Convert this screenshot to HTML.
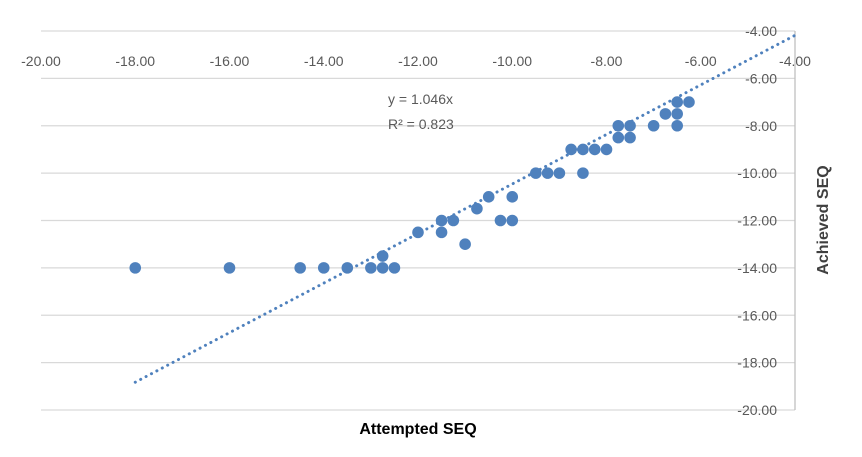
<!DOCTYPE html>
<html><head><meta charset="utf-8"><style>
body{margin:0;background:#fff;}
svg{display:block;font-family:"Liberation Sans",sans-serif;}
</style></head><body>
<svg id="chart" width="862" height="457">
<g id="grid"></g><g id="axes"></g><g id="trend"></g><g id="pts"></g>
<text x="388" y="104" font-size="14" fill="#595959">y = 1.046x</text>
<text x="388" y="129" font-size="14" fill="#595959">R² = 0.823</text>
<text x="418" y="434" font-size="16" font-weight="bold" text-anchor="middle" fill="#000">Attempted SEQ</text>
<text transform="translate(828,220) rotate(-90)" font-size="16" font-weight="bold" text-anchor="middle" fill="#404040">Achieved SEQ</text>
</svg>
<script>
const xTicks=[-20,-18,-16,-14,-12,-10,-8,-6,-4];
const yTicks=[-4,-6,-8,-10,-12,-14,-16,-18,-20];
const xVals=[-18,-16,-14.5,-14,-13.5,-13,-12.75,-12.5,-12.75,-12,-11.5,-11.5,-11.25,-11,-10.75,-10.5,-10.25,-10,-10,-9.5,-9.25,-9,-8.5,-8.75,-8.5,-8.25,-8,-7.75,-7.75,-7.5,-7.5,-7,-6.75,-6.5,-6.5,-6.5,-6.25];
const yVals=[-14,-14,-14,-14,-14,-14,-14,-14,-13.5,-12.5,-12,-12.5,-12,-13,-11.5,-11,-12,-12,-11,-10,-10,-10,-10,-9,-9,-9,-9,-8,-8.5,-8,-8.5,-8,-7.5,-7,-7.5,-8,-7];
const slope=1.046;
const trendRange=[-18,-4];
const X=v=>41+(v+20)*754/16;
const Y=v=>31+(-4-v)*379/16;
const NS="http://www.w3.org/2000/svg";
function mk(t,a,p){const e=document.createElementNS(NS,t);for(const k in a)e.setAttribute(k,a[k]);p.appendChild(e);return e;}
const grid=document.getElementById('grid'),axes=document.getElementById('axes'),pts=document.getElementById('pts'),tr=document.getElementById('trend');
yTicks.forEach(v=>{
 const l=mk('line',{x1:41,x2:795,y1:Y(v),y2:Y(v),stroke:'#d9d9d9','stroke-width':1.3},grid);
 
 
 const t=mk('text',{x:777,y:Y(v)+5,'font-size':14,fill:'#595959','text-anchor':'end'},axes);
 t.textContent=v.toFixed(2);
 
 
});
xTicks.forEach(v=>{
 const t=mk('text',{x:X(v),y:66,'font-size':14,fill:'#595959','text-anchor':'middle'},axes);
 t.textContent=v.toFixed(2);
 
 
});
const ax=mk('line',{x1:795,x2:795,y1:31,y2:410,stroke:'#bfbfbf','stroke-width':1.3},axes);


const tl=mk('line',{x1:X(trendRange[0]),y1:Y(trendRange[0]*slope),x2:X(trendRange[1]),y2:Y(trendRange[1]*slope),stroke:'#4f81bd','stroke-width':3,'stroke-dasharray':'0.1 6','stroke-linecap':'round'},tr);


xVals.forEach((v,i)=>{
 const c=mk('circle',{cx:X(v),cy:Y(yVals[i]),r:5.8,fill:'#4f81bd'},pts);
 
 
});
</script>
</body></html>
